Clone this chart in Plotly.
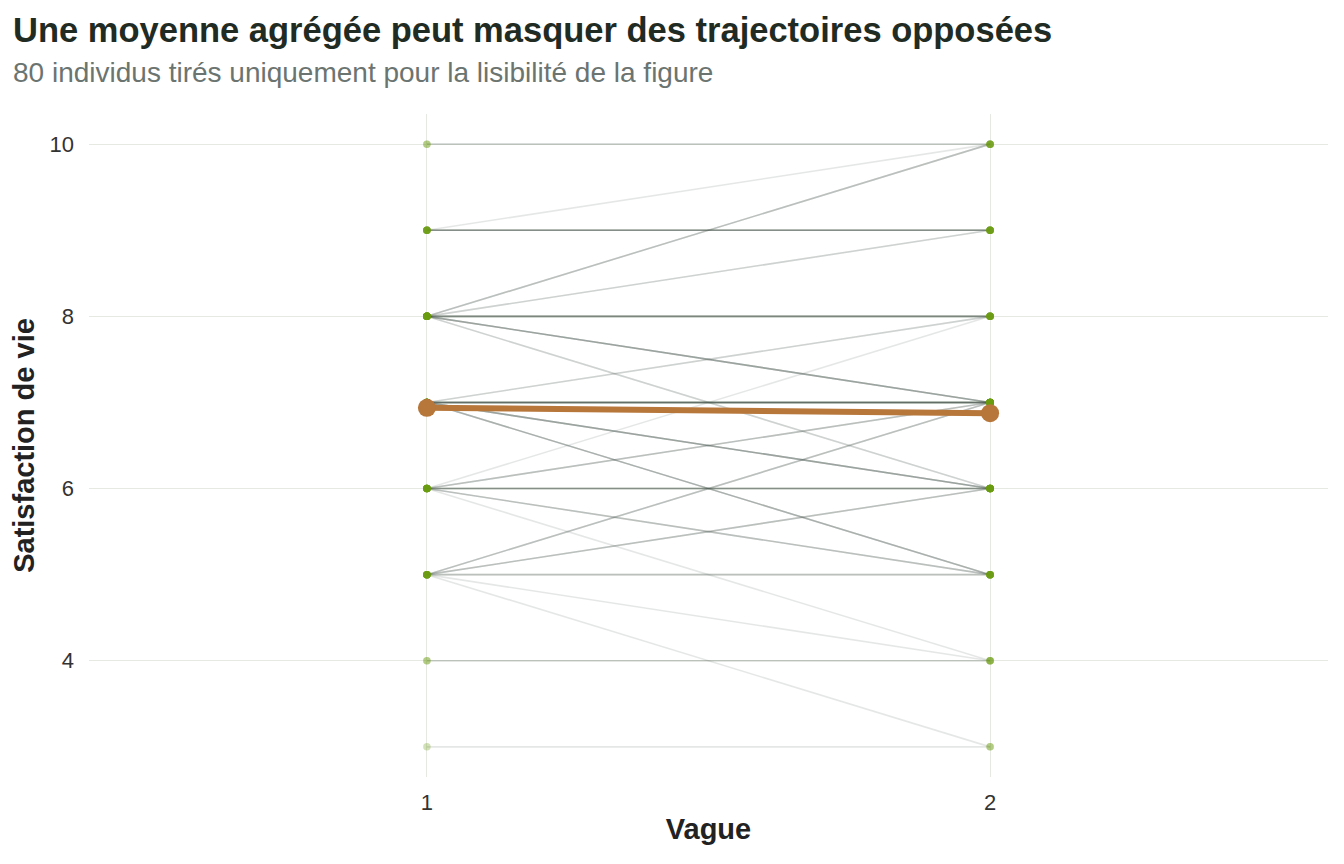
import plotly.graph_objects as go

# transitions between wave 1 and wave 2 (80 sampled individuals)
score_w1 = [10, 9, 9, 8, 8, 8, 8, 8, 7, 7, 7, 7, 6, 6, 6, 6, 6, 5, 5, 5, 5, 5, 4, 3]
score_w2 = [10, 10, 9, 10, 9, 8, 7, 6, 8, 7, 6, 5, 8, 7, 6, 5, 4, 7, 6, 5, 4, 3, 4, 3]
n_indiv = [2, 1, 7, 3, 2, 7, 5, 2, 2, 12, 5, 4, 1, 3, 6, 3, 1, 3, 3, 3, 1, 1, 2, 1]

waves = [1, 2]
y_ticks = [4, 6, 8, 10]

title = "Une moyenne agrégée peut masquer des trajectoires opposées"
subtitle = "80 individus tirés uniquement pour la lisibilité de la figure"

# one record per individual
indiv = []
for a, b, n in zip(score_w1, score_w2, n_indiv):
    indiv += [(a, b)] * n

mean_w1 = sum(a for a, b in indiv) / len(indiv)
mean_w2 = sum(b for a, b in indiv) / len(indiv)

fig = go.Figure()

for a, b in indiv:
    fig.add_trace(go.Scatter(
        x=waves, y=[a, b], mode="lines",
        line=dict(color="rgba(70,86,80,0.14)", width=1.6),
        hoverinfo="skip", showlegend=False
    ))

fig.add_trace(go.Scatter(
    x=[1] * len(indiv) + [2] * len(indiv),
    y=[a for a, b in indiv] + [b for a, b in indiv],
    mode="markers",
    marker=dict(color="rgba(106,156,18,0.3)", size=7.5, line=dict(width=0)),
    showlegend=False
))

fig.add_trace(go.Scatter(
    x=waves, y=[mean_w1, mean_w2], mode="lines+markers",
    line=dict(color="#b7763a", width=6),
    marker=dict(color="#b7763a", size=18),
    showlegend=False
))

font = "Liberation Sans, Arial, sans-serif"

fig.update_layout(
    width=1328, height=848,
    margin=dict(l=81, r=8, t=106, b=79),
    plot_bgcolor="white", paper_bgcolor="white",
    font=dict(family=font, color="#2b2b2b", size=22),
    xaxis=dict(
        range=[0.4, 2.6], tickvals=waves, ticktext=[str(w) for w in waves],
        showgrid=True, gridcolor="#e6e9e1", gridwidth=1, zeroline=False,
        showline=False, ticks="", ticklabelstandoff=10,
        tickfont=dict(size=22, color="#333333"),
        title=dict(text="<b>Vague</b>", font=dict(size=29, color="#222222"), standoff=4)
    ),
    yaxis=dict(
        range=[2.65, 10.35], tickvals=y_ticks,
        showgrid=True, gridcolor="#e6e9e1", gridwidth=1, zeroline=False,
        showline=False, ticks="", ticklabelstandoff=14,
        tickfont=dict(size=22, color="#333333"),
        title=dict(text="<b>Satisfaction de vie</b>", font=dict(size=29, color="#222222"), standoff=6)
    ),
    annotations=[
        dict(text="<b>" + title + "</b>", xref="paper", yref="paper",
             x=-0.0629, y=1.1267, xanchor="left", yanchor="middle", showarrow=False,
             font=dict(size=34.5, color="#1f2b23", family=font)),
        dict(text=subtitle, xref="paper", yref="paper",
             x=-0.0629, y=1.0633, xanchor="left", yanchor="middle", showarrow=False,
             font=dict(size=28, color="#6b7470", family=font)),
    ]
)

fig.write_html("out.html")
